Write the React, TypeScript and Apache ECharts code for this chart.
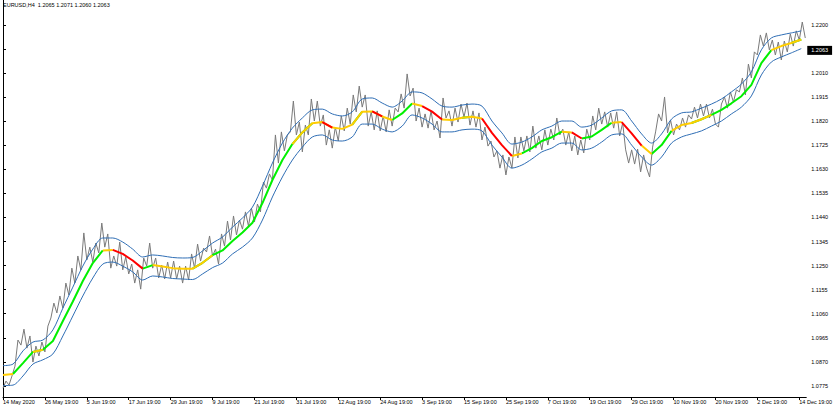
import React, { useEffect, useRef } from "react";
import * as echarts from "echarts";

const FONT = "'Liberation Sans', Arial, sans-serif";
const headerText = "EURUSD,H4  1.2065 1.2071 1.2060 1.2063";
const lastPrice = 1.2063;

const xLabels = [
  "14 May 2020", "26 May 19:00", "5 Jun 19:00", "17 Jun 19:00", "29 Jun 19:00",
  "9 Jul 19:00", "21 Jul 19:00", "31 Jul 19:00", "12 Aug 19:00", "24 Aug 19:00",
  "3 Sep 19:00", "15 Sep 19:00", "25 Sep 19:00", "7 Oct 19:00", "19 Oct 19:00",
  "29 Oct 19:00", "10 Nov 19:00", "20 Nov 19:00", "2 Dec 19:00", "14 Dec 19:00",
];
const barsPerLabel = 42;
const yTicks = [
  1.0775, 1.087, 1.0965, 1.106, 1.1155, 1.125, 1.1345, 1.144,
  1.1535, 1.163, 1.1725, 1.182, 1.1915, 1.201, 1.2105, 1.22,
];

// price path (high/low swings), one value every 3 bars
const priceStep = 3;
const priceValues = [
  1.0766, 1.0794, 1.0778, 1.0814, 1.0853, 1.0956, 1.0936, 1.0999, 1.0924, 1.0972,
  1.0869, 1.0932, 1.0893, 1.0948, 1.0909, 1.1011, 1.1043, 1.1102, 1.1063, 1.1130,
  1.1082, 1.1181, 1.1134, 1.1240, 1.1181, 1.1288, 1.1233, 1.1379, 1.1272, 1.1323,
  1.1264, 1.1339, 1.1300, 1.1418, 1.1323, 1.1375, 1.1240, 1.1288, 1.1248, 1.1343,
  1.1233, 1.1284, 1.1217, 1.1256, 1.1181, 1.1233, 1.1157, 1.1280, 1.1248, 1.1339,
  1.1240, 1.1280, 1.1201, 1.1252, 1.1197, 1.1264, 1.1201, 1.1268, 1.1197, 1.1248,
  1.1181, 1.1248, 1.1193, 1.1296, 1.1240, 1.1335, 1.1268, 1.1319, 1.1304, 1.1367,
  1.1288, 1.1315, 1.1256, 1.1375, 1.1327, 1.1426, 1.1351, 1.1446, 1.1371, 1.1430,
  1.1394, 1.1462, 1.1406, 1.1477, 1.1422, 1.1493, 1.1462, 1.1580, 1.1556, 1.1612,
  1.1588, 1.1766, 1.1655, 1.1778, 1.1703, 1.1766, 1.1778, 1.1900, 1.1766, 1.1817,
  1.1699, 1.1805, 1.1766, 1.1908, 1.1821, 1.1900, 1.1801, 1.1845, 1.1726, 1.1786,
  1.1714, 1.1797, 1.1742, 1.1841, 1.1782, 1.1872, 1.1809, 1.1924, 1.1857, 1.1959,
  1.1876, 1.1924, 1.1801, 1.1857, 1.1786, 1.1861, 1.1782, 1.1841, 1.1778, 1.1865,
  1.1801, 1.1872, 1.1857, 1.1928, 1.1872, 1.2007, 1.1920, 1.1951, 1.1821, 1.1872,
  1.1797, 1.1849, 1.1793, 1.1861, 1.1786, 1.1821, 1.1754, 1.1912, 1.1833, 1.1861,
  1.1801, 1.1872, 1.1817, 1.1888, 1.1837, 1.1892, 1.1805, 1.1861, 1.1797, 1.1853,
  1.1746, 1.1797, 1.1722, 1.1742, 1.1679, 1.1703, 1.1635, 1.1687, 1.1608, 1.1679,
  1.1635, 1.1758, 1.1675, 1.1758, 1.1703, 1.1762, 1.1699, 1.1801, 1.1714, 1.1762,
  1.1707, 1.1786, 1.1726, 1.1789, 1.1746, 1.1833, 1.1766, 1.1789, 1.1726, 1.1778,
  1.1703, 1.1762, 1.1687, 1.1746, 1.1695, 1.1789, 1.1746, 1.1841, 1.1786, 1.1872,
  1.1809, 1.1857, 1.1797, 1.1853, 1.1793, 1.1857, 1.1762, 1.1813, 1.1707, 1.1655,
  1.1707, 1.1651, 1.1710, 1.1620, 1.1687, 1.1635, 1.1600, 1.1718, 1.1778, 1.1849,
  1.1821, 1.1916, 1.1774, 1.1825, 1.1766, 1.1809, 1.1786, 1.1833, 1.1797, 1.1845,
  1.1829, 1.1876, 1.1833, 1.1888, 1.1841, 1.1888, 1.1833, 1.1868, 1.1809, 1.1797,
  1.1888, 1.1916, 1.1872, 1.1936, 1.1896, 1.1944, 1.1936, 1.1991, 1.1924, 1.2046,
  1.1991, 1.2094, 1.2082, 1.2161, 1.2117, 1.2169, 1.2102, 1.2141, 1.2082, 1.2133,
  1.2062, 1.2137, 1.2094, 1.2165, 1.2117, 1.2177, 1.2141, 1.2212, 1.2149,
];

// moving average and its bands, one value every 10 bars
const maStep = 10;
const maValues = [
  1.0818, 1.0822, 1.0865, 1.0909, 1.0918, 1.0952, 1.1031, 1.1108, 1.1189, 1.1260,
  1.1310, 1.1312, 1.1296, 1.1270, 1.1238, 1.1252, 1.1246, 1.1240, 1.1238, 1.1238,
  1.1261, 1.1291, 1.1310, 1.1347, 1.1381, 1.1419, 1.1497, 1.1588, 1.1667, 1.1730,
  1.1776, 1.1812, 1.1817, 1.1795, 1.1790, 1.1807, 1.1858, 1.1859, 1.1839, 1.1825,
  1.1851, 1.1890, 1.1880, 1.1858, 1.1827, 1.1825, 1.1834, 1.1838, 1.1831, 1.1774,
  1.1726, 1.1683, 1.1693, 1.1714, 1.1742, 1.1757, 1.1779, 1.1776, 1.1752, 1.1760,
  1.1786, 1.1814, 1.1817, 1.1772, 1.1724, 1.1691, 1.1726, 1.1782, 1.1805, 1.1813,
  1.1828, 1.1845, 1.1865, 1.1891, 1.1919, 1.1964, 1.2050, 1.2101, 1.2117, 1.2129,
  1.2143,
];
const upperValues = [
  1.0855, 1.0861, 1.0913, 1.0948, 1.0956, 1.0996, 1.1082, 1.1165, 1.1248, 1.1315,
  1.1359, 1.1359, 1.1343, 1.1315, 1.1284, 1.1292, 1.1288, 1.1282, 1.1280, 1.1282,
  1.1308, 1.1339, 1.1363, 1.1402, 1.1438, 1.1481, 1.1564, 1.1655, 1.1734, 1.1793,
  1.1833, 1.1865, 1.1868, 1.1849, 1.1841, 1.1857, 1.1908, 1.1912, 1.1892, 1.1876,
  1.1900, 1.1936, 1.1932, 1.1908, 1.1880, 1.1876, 1.1884, 1.1888, 1.1880, 1.1821,
  1.1774, 1.1730, 1.1738, 1.1758, 1.1786, 1.1801, 1.1821, 1.1821, 1.1797, 1.1805,
  1.1833, 1.1861, 1.1865, 1.1821, 1.1770, 1.1734, 1.1770, 1.1829, 1.1853, 1.1857,
  1.1872, 1.1888, 1.1908, 1.1936, 1.1967, 1.2015, 1.2102, 1.2149, 1.2161, 1.2169,
  1.2177,
];
const lowerValues = [
  1.0776, 1.0778, 1.0814, 1.0861, 1.0878, 1.0901, 1.0972, 1.1051, 1.1130, 1.1201,
  1.1256, 1.1264, 1.1248, 1.1225, 1.1193, 1.1209, 1.1205, 1.1199, 1.1197, 1.1195,
  1.1217, 1.1242, 1.1260, 1.1296, 1.1323, 1.1359, 1.1430, 1.1521, 1.1600, 1.1667,
  1.1718, 1.1758, 1.1766, 1.1746, 1.1742, 1.1758, 1.1809, 1.1809, 1.1789, 1.1778,
  1.1801, 1.1845, 1.1833, 1.1809, 1.1778, 1.1778, 1.1786, 1.1789, 1.1782, 1.1726,
  1.1679, 1.1635, 1.1647, 1.1671, 1.1699, 1.1714, 1.1734, 1.1734, 1.1707, 1.1714,
  1.1738, 1.1766, 1.1770, 1.1726, 1.1679, 1.1647, 1.1679, 1.1734, 1.1758, 1.1770,
  1.1782, 1.1801, 1.1821, 1.1849, 1.1876, 1.1920, 1.2003, 1.2054, 1.2074, 1.2090,
  1.2107,
];
// trend colour of the MA segment starting at each point: G up, Y flat, R down
const maTrend = [
  "Y", "G", "G", "Y", "G", "G", "G", "G", "G", "G",
  "Y", "R", "R", "R", "G", "Y", "Y", "Y", "Y", "G",
  "Y", "G", "G", "G", "G", "G", "G", "G", "G", "Y",
  "G", "Y", "R", "Y", "Y", "G", "Y", "R", "Y", "G",
  "G", "Y", "R", "R", "Y", "Y", "G", "Y", "R", "R",
  "R", "Y", "G", "G", "G", "G", "Y", "R", "G", "G",
  "G", "Y", "R", "R", "Y", "G", "G", "Y", "Y", "G",
  "Y", "G", "G", "G", "G", "G", "G", "Y", "Y", "G",
  "Y",
];
const trendColors: Record<string, string> = { G: "#00f000", Y: "#ffcc00", R: "#ff0000" };

const pairs = (vals: number[], step: number) => vals.map((v, i) => [i * step, v]);
const trendData = (c: string) =>
  maValues.map((v, i) =>
    maTrend[i] === c || (i > 0 && maTrend[i - 1] === c) ? [i * maStep, v] : [i * maStep, null]
  );

const yMin = 1.0731;
const yMax = 1.2299;
const xMax = 805;
const xTickVals = xLabels.map((_, i) => i * barsPerLabel);

const labelStyle = { fontSize: 5.5, color: "#000", fontFamily: FONT };

function buildOption(): any {
  return {
    animation: false,
    backgroundColor: "#fff",
    title: {
      text: headerText,
      left: 3,
      top: 2,
      padding: 0,
      textStyle: { fontSize: 5.5, fontWeight: "normal", color: "#000", fontFamily: FONT },
    },
    grid: { left: 3, right: 27, top: 0, bottom: 10, containLabel: false },
    xAxis: {
      type: "value",
      min: 0,
      max: xMax,
      splitLine: { show: false },
      axisLine: { show: true, onZero: false, lineStyle: { color: "#000", width: 1 } },
      axisTick: {
        show: true,
        customValues: xTickVals,
        length: 3,
        lineStyle: { color: "#000" },
      },
      axisLabel: {
        ...labelStyle,
        customValues: xTickVals,
        formatter: (v: number) => xLabels[Math.round(v / barsPerLabel)] ?? "",
        align: "left",
        margin: 2,
        hideOverlap: false,
        showMaxLabel: true,
        showMinLabel: true,
      },
    },
    yAxis: [
      {
        type: "value",
        position: "right",
        min: yMin,
        max: yMax,
        scale: true,
        splitLine: { show: false },
        axisLine: { show: true, lineStyle: { color: "#000", width: 1 } },
        axisTick: { show: true, customValues: yTicks, length: 3, lineStyle: { color: "#000" } },
        axisLabel: {
          ...labelStyle,
          customValues: yTicks,
          formatter: (v: number) => v.toFixed(4),
          margin: 5,
          showMaxLabel: true,
          showMinLabel: true,
        },
      },
      {
        type: "value",
        position: "left",
        min: yMin,
        max: yMax,
        scale: true,
        splitLine: { show: false },
        axisLine: { show: true, lineStyle: { color: "#000", width: 1 } },
        axisTick: { show: false },
        axisLabel: { show: false },
      },
    ],
    series: [
      {
        type: "line",
        name: "price",
        data: pairs(priceValues, priceStep),
        showSymbol: false,
        silent: true,
        lineStyle: { color: "#7a7a7a", width: 1 },
        z: 2,
        markLine: {
          silent: true,
          symbol: ["none", "none"],
          data: [{ yAxis: lastPrice }],
          lineStyle: { color: "transparent", width: 0 },
          label: {
            show: true,
            position: "end",
            distance: 1,
            formatter: lastPrice.toFixed(4),
            color: "#fff",
            backgroundColor: "#000",
            fontSize: 5.5,
            fontFamily: FONT,
            padding: [2, 4, 1, 4],
          },
        },
      },
      {
        type: "line",
        name: "upper",
        data: pairs(upperValues, maStep),
        showSymbol: false,
        silent: true,
        smooth: 0.3,
        lineStyle: { color: "#2f6eb5", width: 1 },
        z: 3,
      },
      {
        type: "line",
        name: "lower",
        data: pairs(lowerValues, maStep),
        showSymbol: false,
        silent: true,
        smooth: 0.3,
        lineStyle: { color: "#2f6eb5", width: 1 },
        z: 3,
      },
      ...["G", "Y", "R"].map((c) => ({
        type: "line",
        name: "ma-" + c,
        data: trendData(c),
        showSymbol: false,
        silent: true,
        connectNulls: false,
        lineStyle: { color: trendColors[c], width: 2 },
        z: 4,
      })),
    ],
  };
}

export default function App() {
  const ref = useRef<HTMLDivElement>(null);
  useEffect(() => {
    if (!ref.current) return;
    const chart = echarts.init(ref.current, null, { renderer: "svg" });
    chart.setOption(buildOption());
    return () => chart.dispose();
  }, []);
  return (
    <div
      ref={ref}
      style={{ position: "fixed", left: 0, top: 0, width: 835, height: 407, background: "#fff" }}
    />
  );
}
